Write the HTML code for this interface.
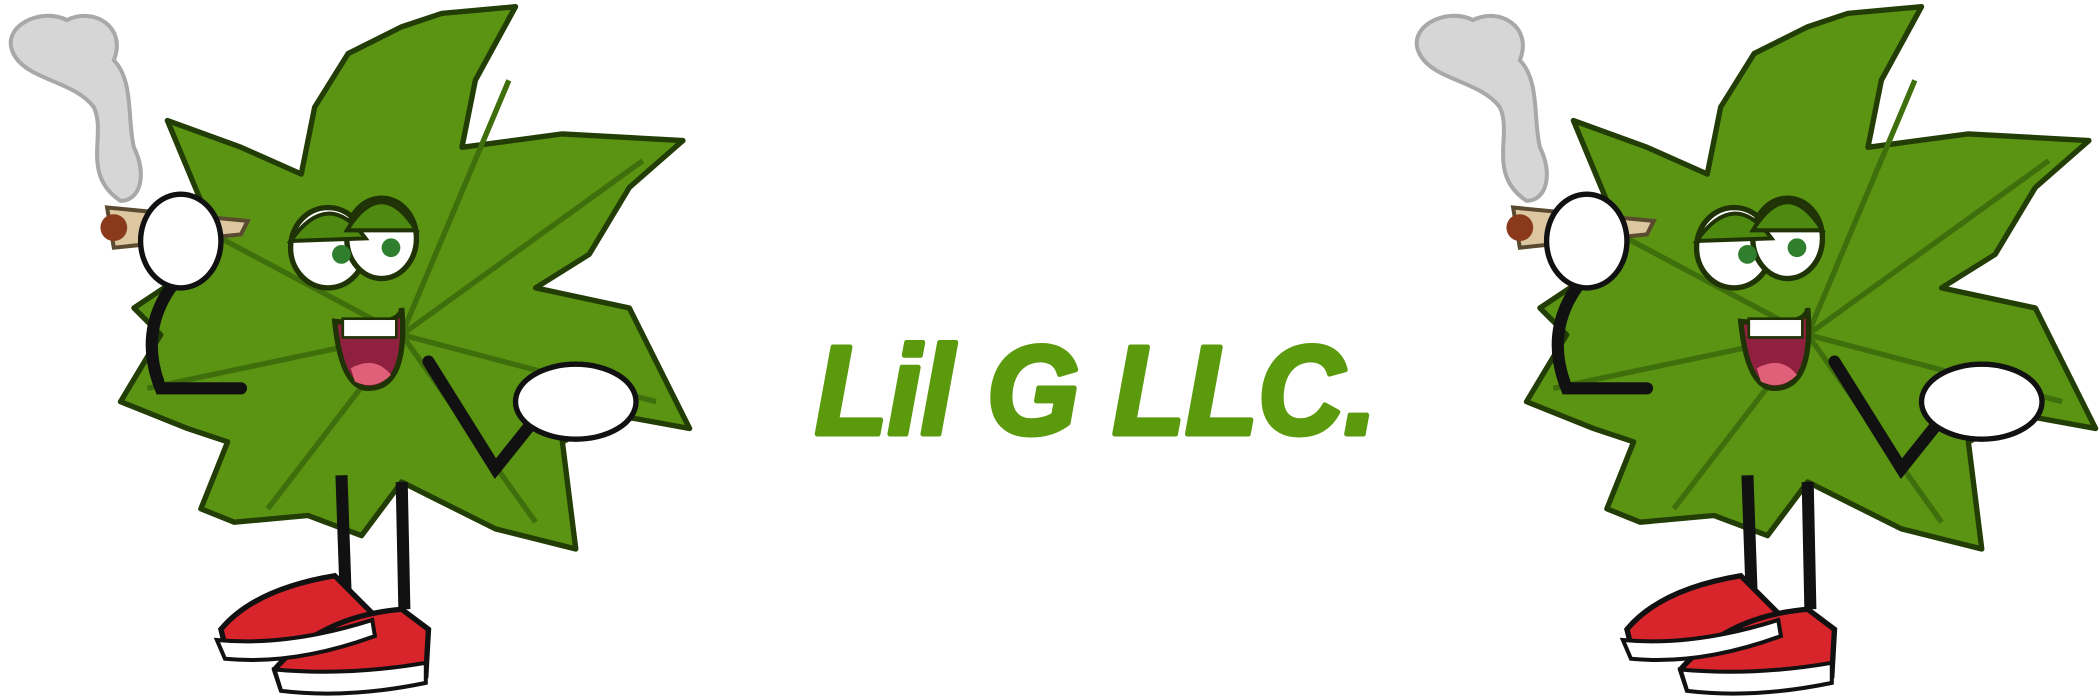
<!DOCTYPE html>
<html><head><meta charset="utf-8"><style>
html,body{margin:0;padding:0;background:#fff;width:2100px;height:700px;overflow:hidden}
svg{display:block}
</style></head><body>
<svg width="2100" height="700" viewBox="0 0 2100 700">
<defs>
<g id="mascot">
  <path d="M90,150 C60,130 80,100 70,80 C55,60 20,60 10,40 C0,20 30,5 50,15 C70,5 95,20 85,45 C100,60 95,90 100,110 C110,130 105,150 90,150 Z" fill="#d6d6d6" stroke="#a8a8a8" stroke-width="3"/>
  <path d="M385,5 L355,60 L345,110 L420,100 L510,105 L470,140 L440,190 L400,215 L470,230 L515,320 L460,310 L420,330 L430,410 L370,395 L320,370 L300,360 L270,400 L230,385 L175,390 L150,380 L170,330 L140,320 L90,300 L120,250 L100,230 L130,210 L115,180 L150,150 L125,90 L180,110 L225,130 L235,80 L260,40 L300,20 L330,10 Z" fill="#5a9412" stroke="#233d06" stroke-width="4" stroke-linejoin="round"/>
  <path d="M300,250 L380,60 M300,250 L480,120 M300,250 L490,300 M300,250 L400,390 M300,250 L200,380 M300,250 L110,290 M300,250 L150,170" stroke="#3f6e0c" stroke-width="4" fill="none"/>
  <ellipse cx="245" cy="185" rx="28" ry="30" fill="#fff" stroke="#1f3306" stroke-width="4"/>
  <ellipse cx="285" cy="178" rx="26" ry="30" fill="#fff" stroke="#1f3306" stroke-width="4"/>
  <path d="M217,180 Q245,140 273,178 Z" fill="#4f8a10" stroke="#1f3306" stroke-width="3"/>
  <path d="M259,172 Q285,130 311,172 Z" fill="#4f8a10" stroke="#1f3306" stroke-width="3"/>
  <circle cx="255" cy="190" r="7" fill="#2f7f2f"/><circle cx="292" cy="185" r="7" fill="#2f7f2f"/>
  <path d="M250,240 Q300,245 300,230 Q305,290 275,290 Q255,290 250,240 Z" fill="#8f2040" stroke="#1f3306" stroke-width="4"/>
  <rect x="256" y="238" width="40" height="14" fill="#fff" stroke="#1f3306" stroke-width="2"/>
  <path d="M262,275 Q280,265 292,280 Q280,292 265,285 Z" fill="#e0607a"/>
  <path d="M140,200 Q100,240 120,290 L180,290" stroke="#111" stroke-width="9" fill="none" stroke-linecap="round"/>
  <path d="M320,270 L370,350 L410,300" stroke="#111" stroke-width="9" fill="none" stroke-linecap="round"/>
  <path d="M80,155 L185,165 L180,175 L85,185 Z" fill="#dcc7a0" stroke="#5a4a30" stroke-width="3"/>
  <circle cx="85" cy="170" r="10" fill="#8a3a1a"/>
  <ellipse cx="135" cy="180" rx="30" ry="35" fill="#fff" stroke="#111" stroke-width="4"/>
  <ellipse cx="430" cy="300" rx="45" ry="28" fill="#fff" stroke="#111" stroke-width="4"/>
  <path d="M255,355 L258,440 M300,360 L302,455" stroke="#111" stroke-width="9" fill="none"/>
  <path d="M165,470 Q190,440 250,430 L280,460 Q220,490 170,490 Z" fill="#d8242b" stroke="#111" stroke-width="4"/>
  <path d="M205,500 Q240,460 300,455 L320,470 L318,505 Q260,520 210,515 Z" fill="#d8242b" stroke="#111" stroke-width="4"/>
  <path d="M205,500 Q260,505 318,495 L318,510 Q260,522 210,516 Z" fill="#fff" stroke="#111" stroke-width="3"/>
  <path d="M162,478 Q215,483 278,463 L280,475 Q220,497 168,492 Z" fill="#fff" stroke="#111" stroke-width="3"/>
</g>
</defs>
<g transform="scale(1.339)"><use href="#mascot"/></g>
<g transform="translate(1406,0) scale(1.339)"><use href="#mascot"/></g>
<text x="815" y="434" textLength="562" lengthAdjust="spacingAndGlyphs" font-family="'Liberation Sans', sans-serif" font-weight="bold" font-style="italic" font-size="126" fill="#5a9a0c" stroke="#5a9a0c" stroke-width="5" stroke-linejoin="round">Lil G LLC.</text>
</svg>
</body></html>
